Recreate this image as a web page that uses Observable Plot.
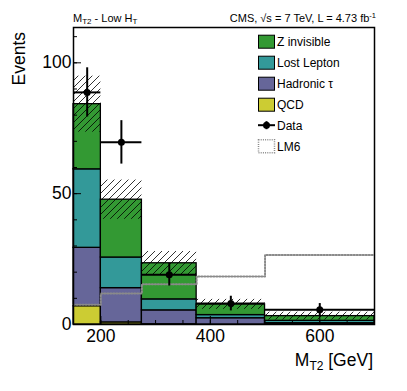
<!DOCTYPE html>
<html><head><meta charset="utf-8">
<script src="https://cdn.jsdelivr.net/npm/d3@7"></script>
<script src="https://cdn.jsdelivr.net/npm/@observablehq/plot@0.6"></script>
<style>
body{margin:0;background:#fff}
#chart{width:407px;height:391px}
#chart svg{font-family:"Liberation Sans",Arial,Helvetica,sans-serif}
</style>
</head><body><div id="chart"></div>
<script>
// ---- data ----
const binEdges = [150, 200, 275, 375, 500, 700];
const processes = ["QCD", "Hadronic τ", "Lost Lepton", "Z invisible"];
const qcd        = [7.0, 0.8, 0.1, 0.0, 0.0];
const hadTau     = [22.3, 13.1, 5.3, 2.4, 0.5];
const lostLepton = [30.0, 11.7, 4.2, 1.2, 0.9];
const zInvisible = [24.9, 22.1, 13.8, 4.1, 1.8];
const bkgErr     = [10.7, 7.5, 4.5, 1.9, 1.5];
const dataY      = [88.7, 69.6, 19.0, 8.0, 5.6];
const dataErr    = [9.4, 8.3, 4.3, 2.8, 2.4];
const lm6        = [7.5, 11.8, 15.4, 18.3, 26.6];
const yMajor = [0, 50, 100];
const yMinor = [0,10,20,30,40,50,60,70,80,90,100,110];
const xMajor = [200, 400, 600];
const xMinor = [150,200,250,300,350,400,450,500,550,600,650,700];
const procColors = ["#cccc33", "#666699", "#339999", "#339933"];
const legendNames = ["Z invisible", "Lost Lepton", "Hadronic τ", "QCD", "Data", "LM6"];

// ---- tables built from the arrays ----
const series = [qcd, hadTau, lostLepton, zInvisible];
const nb = binEdges.length - 1;
const stackRows = [];
for (let i = 0; i < nb; i++) {
  processes.forEach((p, k) => stackRows.push({x1: binEdges[i], x2: binEdges[i+1], process: p, value: series[k][i]}));
}
const bins = d3.range(nb).map(i => {
  const total = qcd[i] + hadTau[i] + lostLepton[i] + zInvisible[i];
  return {x1: binEdges[i], x2: binEdges[i+1], xc: (binEdges[i]+binEdges[i+1])/2,
          lo: total - bkgErr[i], hi: total + bkgErr[i],
          y: dataY[i], ylo: dataY[i]-dataErr[i], yhi: dataY[i]+dataErr[i]};
});
const lm6Rows = binEdges.map((e, i) => ({x: e, y: lm6[Math.min(i, nb-1)]}));

const fs = 17.5;
const plot = Plot.plot({
  width: 407, height: 391,
  marginLeft: 73, marginRight: 33, marginTop: 27, marginBottom: 67,
  x: {domain: [150, 700]},
  y: {domain: [0, 113.5]},
  color: {domain: processes, range: procColors},
  style: {background: "white", fontFamily: "Liberation Sans, Arial, sans-serif"},
  marks: [
    Plot.rectY(stackRows, {x1: "x1", x2: "x2", y: "value", fill: "process", order: processes, stroke: "black", strokeWidth: 1.3}),
    Plot.line(lm6Rows, {x: "x", y: "y", curve: "step-after", stroke: "#8a8a8a", strokeWidth: 2, strokeDasharray: "1.2,1.8"}),
    Plot.rect(bins, {x1: "x1", x2: "x2", y1: "lo", y2: "hi", fill: "url(#hatch)"}),
    Plot.ruleX(bins, {x: "xc", y1: "ylo", y2: "yhi", stroke: "black", strokeWidth: 2}),
    Plot.ruleY(bins, {y: "y", x1: "x1", x2: "x2", stroke: "black", strokeWidth: 2}),
    Plot.dot(bins, {x: "xc", y: "y", r: 3.5, fill: "black"}),
    Plot.axisY(yMajor, {tickSize: 8, dx: 8, tickFormat: () => "", label: null, stroke: "black"}),
    Plot.axisY(yMinor, {tickSize: 4, dx: 4, tickFormat: () => "", label: null, stroke: "black"}),
    Plot.axisY(yMajor, {tickSize: 0, tickPadding: 2, fontSize: fs, label: null, fill: "black"}),
    Plot.axisX(xMajor, {tickSize: 8, dy: -8, tickFormat: () => "", label: null, stroke: "black"}),
    Plot.axisX(xMinor, {tickSize: 4, dy: -4, tickFormat: () => "", label: null, stroke: "black"}),
    Plot.axisX(xMajor, {tickSize: 0, tickPadding: 5, fontSize: fs, label: null, fill: "black"}),
    Plot.frame({stroke: "black", strokeWidth: 1.5})
  ]
});
document.getElementById("chart").appendChild(plot);

const svg = d3.select(plot);
const defs = svg.insert("defs", ":first-child");
const pat = defs.append("pattern").attr("id", "hatch").attr("patternUnits", "userSpaceOnUse")
  .attr("width", 7).attr("height", 7);
pat.append("path").attr("d", "M-1,1 L1,-1 M0,7 L7,0 M6,8 L8,6")
  .attr("stroke", "black").attr("stroke-width", 0.8).attr("fill", "none");

const font = "Liberation Sans, Arial, sans-serif";
// titles
const t1 = svg.append("text").attr("x", 73).attr("y", 21.5).attr("font-size", 11).attr("text-anchor", "start").attr("font-family", font);
t1.append("tspan").text("M");
t1.append("tspan").attr("font-size", 8).attr("dy", 2.5).text("T2");
t1.append("tspan").attr("dy", -2.5).text(" - Low H");
t1.append("tspan").attr("font-size", 8).attr("dy", 2.5).text("T");

const t2 = svg.append("text").attr("x", 376).attr("y", 21.5).attr("font-size", 11).attr("text-anchor", "end").attr("font-family", font);
t2.append("tspan").text("CMS, √s = 7 TeV, L = 4.73 fb");
t2.append("tspan").attr("font-size", 7.5).attr("dy", -4).text("-1");

// axis titles
svg.append("text").attr("transform", "translate(25,32) rotate(-90)").attr("text-anchor", "end")
  .attr("font-size", fs).attr("font-family", font).text("Events");
const xt = svg.append("text").attr("x", 373).attr("y", 366).attr("text-anchor", "end").attr("font-size", fs).attr("font-family", font);
xt.append("tspan").text("M");
xt.append("tspan").attr("font-size", 12).attr("dy", 4).text("T2");
xt.append("tspan").attr("dy", -4).text(" [GeV]");

// legend
const rowY = [41.7, 62.7, 83.7, 104.7, 125.2, 146.2];
const lg = svg.append("g").attr("text-anchor", "start");
legendNames.forEach((name, i) => {
  const cy = rowY[i];
  if (i < 4) {
    lg.append("rect").attr("x", 258.5).attr("y", cy - 6.5).attr("width", 16).attr("height", 13)
      .attr("fill", procColors[3 - i]).attr("stroke", "black").attr("stroke-width", 1);
  } else if (name === "Data") {
    lg.append("line").attr("x1", 258).attr("x2", 275).attr("y1", cy).attr("y2", cy).attr("stroke", "black").attr("stroke-width", 2);
    lg.append("line").attr("x1", 266.5).attr("x2", 266.5).attr("y1", cy - 4).attr("y2", cy + 4).attr("stroke", "black").attr("stroke-width", 2);
    lg.append("circle").attr("cx", 266.5).attr("cy", cy).attr("r", 3.5).attr("fill", "black");
  } else {
    lg.append("rect").attr("x", 258.5).attr("y", cy - 6.5).attr("width", 16).attr("height", 13)
      .attr("fill", "none").attr("stroke", "#8a8a8a").attr("stroke-width", 1.5).attr("stroke-dasharray", "1,1.2");
  }
  lg.append("text").attr("x", 277).attr("y", cy).attr("dy", "0.36em").attr("text-anchor", "start")
    .attr("font-size", 12).attr("font-family", font).text(name);
});
</script>
</body></html>
